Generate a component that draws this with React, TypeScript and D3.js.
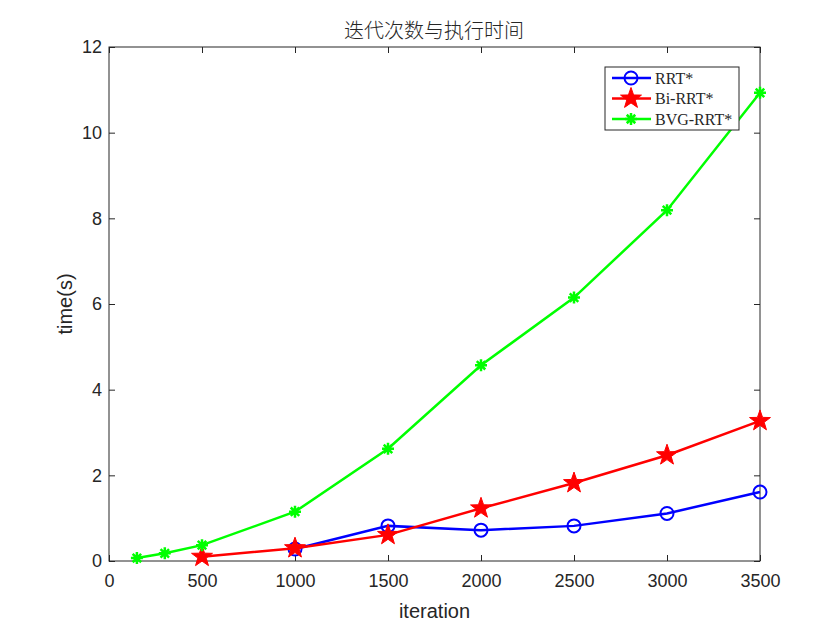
import React, { useEffect, useRef } from 'react';
import * as d3 from 'd3';

const rrtX = [1000, 1500, 2000, 2500, 3000, 3500];
const rrtY = [0.28, 0.82, 0.72, 0.82, 1.11, 1.61];
const biX = [500, 1000, 1500, 2000, 2500, 3000, 3500];
const biY = [0.1, 0.3, 0.61, 1.23, 1.82, 2.47, 3.27];
const bvgX = [150, 300, 500, 1000, 1500, 2000, 2500, 3000, 3500];
const bvgY = [0.07, 0.18, 0.37, 1.15, 2.62, 4.57, 6.15, 8.19, 10.93];
const xTicks = [0, 500, 1000, 1500, 2000, 2500, 3000, 3500];
const yTicks = [0, 2, 4, 6, 8, 10, 12];
const seriesNames = ['RRT*', 'Bi-RRT*', 'BVG-RRT*'];
const seriesColors = ['#0000ff', '#ff0000', '#00ff00'];

const starPath = (r: number) => {
    const pts: string[] = [];
    for (let i = 0; i < 10; i++) {
        const rr = i % 2 === 0 ? r : r * 0.4;
        const a = -Math.PI / 2 + (i * Math.PI) / 5;
        pts.push(`${rr * Math.cos(a)},${rr * Math.sin(a)}`);
    }
    return 'M' + pts.join('L') + 'Z';
};

const asteriskPath = (r: number) => {
    const d = r * 0.707;
    return `M${-r},0L${r},0M0,${-r}L0,${r}M${-d},${-d}L${d},${d}M${-d},${d}L${d},${-d}`;
};

const App = () => {
    const svgRef = useRef<SVGSVGElement>(null);

    useEffect(() => {
        const svg = d3.select(svgRef.current);
        svg.selectAll('*').remove();

        const left = 109, right = 760, top = 47, bottom = 561;
        const x = d3.scaleLinear().domain([0, 3500]).range([left, right]);
        const y = d3.scaleLinear().domain([0, 12]).range([bottom, top]);

        svg.append('rect').attr('width', 840).attr('height', 630).attr('fill', '#fff');

        // axes box with inward ticks on all sides
        const tickFont = '"Liberation Sans", Arial, sans-serif';
        const axisStyle = (g: any) => {
            g.select('.domain').remove();
            g.attr('font-size', 18).attr('font-family', tickFont);
            g.selectAll('line').attr('stroke', '#262626');
            g.selectAll('text').attr('fill', '#262626');
        };
        svg.append('g').attr('transform', `translate(0,${bottom})`)
            .call(d3.axisBottom(x).tickValues(xTicks).tickFormat(d3.format('d')).tickSizeInner(-6).tickSizeOuter(0).tickPadding(13))
            .call(axisStyle);
        svg.append('g').attr('transform', `translate(${left},0)`)
            .call(d3.axisLeft(y).tickValues(yTicks).tickFormat(d3.format('d')).tickSizeInner(-6).tickSizeOuter(0).tickPadding(7))
            .call(axisStyle);
        svg.append('g').attr('transform', `translate(0,${top})`)
            .call(d3.axisTop(x).tickValues(xTicks).tickSizeInner(-6).tickSizeOuter(0).tickFormat(() => ''))
            .call(axisStyle);
        svg.append('g').attr('transform', `translate(${right},0)`)
            .call(d3.axisRight(y).tickValues(yTicks).tickSizeInner(-6).tickSizeOuter(0).tickFormat(() => ''))
            .call(axisStyle);
        svg.append('rect')
            .attr('x', left).attr('y', top).attr('width', right - left).attr('height', bottom - top)
            .attr('fill', 'none').attr('stroke', '#262626').attr('stroke-width', 1);

        const line = d3.line<[number, number]>().x(d => x(d[0])).y(d => y(d[1]));
        const series = [
            { xs: rrtX, ys: rrtY },
            { xs: biX, ys: biY },
            { xs: bvgX, ys: bvgY },
        ];

        const drawMarker = (g: any, i: number, cx: number, cy: number) => {
            const c = seriesColors[i];
            if (i === 0) {
                g.append('circle').attr('cx', cx).attr('cy', cy).attr('r', 6.5)
                    .attr('fill', 'none').attr('stroke', c).attr('stroke-width', 2);
            } else if (i === 1) {
                g.append('path').attr('d', starPath(11)).attr('transform', `translate(${cx},${cy})`)
                    .attr('fill', c).attr('stroke', c).attr('stroke-width', 1);
            } else {
                g.append('path').attr('d', asteriskPath(6)).attr('transform', `translate(${cx},${cy})`)
                    .attr('fill', 'none').attr('stroke', c).attr('stroke-width', 2.5);
            }
        };

        series.forEach((s, i) => {
            const pts = s.xs.map((v, j) => [v, s.ys[j]] as [number, number]);
            const g = svg.append('g');
            g.append('path').attr('d', line(pts)).attr('fill', 'none')
                .attr('stroke', seriesColors[i]).attr('stroke-width', 2.5);
            pts.forEach(p => drawMarker(g, i, x(p[0]), y(p[1])));
        });

        // legend
        const lg = svg.append('g');
        lg.append('rect').attr('x', 605).attr('y', 67).attr('width', 134).attr('height', 63)
            .attr('fill', '#fff').attr('stroke', '#262626').attr('stroke-width', 1);
        seriesNames.forEach((name, i) => {
            const ly = 78 + i * 20.5;
            lg.append('line').attr('x1', 612).attr('x2', 651).attr('y1', ly).attr('y2', ly)
                .attr('stroke', seriesColors[i]).attr('stroke-width', 2.5);
            drawMarker(lg, i, 631, ly);
            lg.append('text').attr('x', 655).attr('y', ly + 5.5).text(name)
                .style('font-family', '"Liberation Serif", "Times New Roman", serif')
                .style('font-size', '16px').attr('fill', '#262626');
        });

        // labels
        svg.append('text').attr('x', 434).attr('y', 38).attr('text-anchor', 'middle')
            .style('font-family', '"Noto Sans CJK SC", sans-serif').style('font-size', '20px')
            .style('font-weight', '300')
            .attr('fill', '#262626').text('迭代次数与执行时间');
        svg.append('text').attr('x', (left + right) / 2).attr('y', 618).attr('text-anchor', 'middle')
            .style('font-family', tickFont).style('font-size', '20px').attr('fill', '#262626').text('iteration');
        svg.append('text').attr('transform', `translate(72,${(top + bottom) / 2}) rotate(-90)`)
            .attr('text-anchor', 'middle')
            .style('font-family', tickFont).style('font-size', '20px').attr('fill', '#262626').text('time(s)');
    }, []);

    return (
        <div style={{ position: 'absolute', left: 0, top: 0 }}>
            <svg ref={svgRef} width={840} height={630}></svg>
        </div>
    );
};

export default App;
